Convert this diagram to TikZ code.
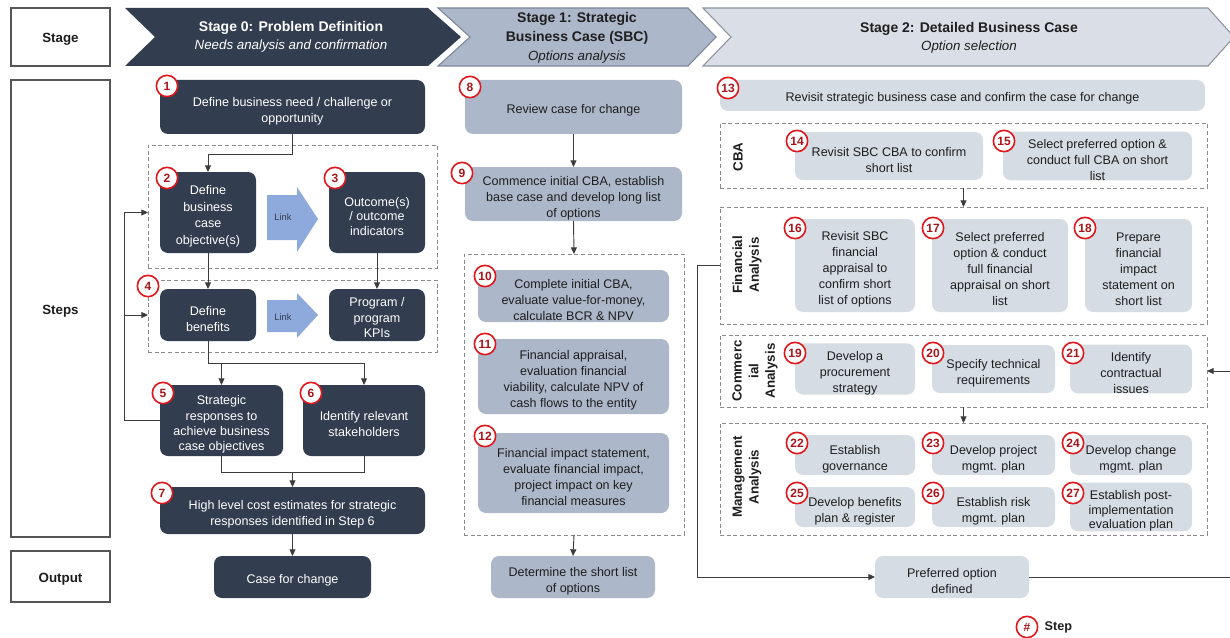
\documentclass[tikz,border=0pt]{standalone}
\usepackage{fontspec}
\setmainfont{Liberation Sans}
\usetikzlibrary{arrows.meta,fit}
\definecolor{navy}{HTML}{323D4F}
\definecolor{midfill}{HTML}{ACB7C9}
\definecolor{lightfill}{HTML}{D6DCE4}
\definecolor{linkblue}{HTML}{8EA9DB}
\definecolor{stepred}{HTML}{E0161B}
\definecolor{numred}{HTML}{A8141A}
\definecolor{dashgray}{HTML}{8A8A8A}
\definecolor{lineg}{HTML}{3C3C3C}
\definecolor{txt}{HTML}{1E1E1E}
\definecolor{lblgray}{HTML}{555555}
\definecolor{stoneedge}{HTML}{7C8698}
\definecolor{stwofill}{HTML}{DADFE7}
\definecolor{stwoedge}{HTML}{8E949E}
\newcommand\bxf{\fontsize{9.4}{12}\selectfont}
\newcommand\tq{\rule{0pt}{12.5pt}}
\begin{document}
\begin{tikzpicture}[x=0.75pt,y=-0.75pt,
  bb/.style n args={4}{minimum width={(#3-#1)*0.75pt}, minimum height={(#4-#2)*0.75pt}, at={({(#1+#3)/2},{(#2+#4)/2})}},
  bx/.style={rounded corners=6pt, inner sep=0pt, outer sep=0pt, align=center, font=\bxf},
  darkbox/.style={bx, fill=navy, text=white},
  midbox/.style={bx, fill=midfill, text=txt},
  lightbox/.style={bx, fill=lightfill, text=txt},
  grp/.style={draw=dashgray, dash pattern=on 3pt off 2pt, line width=0.6pt, inner sep=0pt, outer sep=0pt},
  stepc/.style={circle, draw=stepred, line width=1.2pt, fill=white, minimum size=16pt, inner sep=0pt, font=\bfseries\fontsize{9}{9}\selectfont, text=numred},
  conn/.style={draw=lineg, line width=0.7pt},
  arr/.style={conn, -{Triangle[length=5pt,width=4.5pt]}},
  lblbox/.style={draw=lblgray, line width=1.5pt, fill=white, inner sep=0pt, outer sep=0pt, font=\bfseries\fontsize{10}{12}\selectfont, text=txt},
  grplbl/.style={rotate=90, align=center, font=\bfseries\fontsize{10}{12.5}\selectfont, text=txt},
  linktxt/.style={font=\fontsize{7}{8}\selectfont, text=navy},
]
\useasboundingbox (0,0) rectangle (1230,638);

% left labels
\node[lblbox, bb={11}{8}{110}{66}] (lstage) {\rule{0pt}{11pt}Stage};
\node[lblbox, bb={11}{80}{110}{537}] (lsteps) {\rule{0pt}{11pt}Steps};
\node[lblbox, bb={11}{551}{110}{602}] (loutput) {\rule{0pt}{11pt}Output};

% chevrons
\fill[navy] (125,8) -- (428,8) -- (461,37) -- (428,66) -- (125,66) -- (155,37) -- cycle;
\filldraw[fill=midfill, draw=stoneedge, line width=0.8pt] (438,8) -- (688,8) -- (716,37) -- (688,66) -- (438,66) -- (470,37) -- cycle;
\filldraw[fill=stwofill, draw=stwoedge, line width=0.8pt] (703,8) -- (1208,8) -- (1234,37) -- (1208,66) -- (703,66) -- (731,37) -- cycle;

\node[text=white, font=\bfseries\fontsize{10.5}{12}\selectfont] (s0t) at (291,28) {Stage 0: Problem Definition};
\node[text=white, font=\itshape\fontsize{10}{12}\selectfont] (s0s) at (291,46) {Needs analysis and confirmation};
\node[align=center, text=txt, font=\bfseries\fontsize{10.5}{14.25}\selectfont] (s1t) at (577,28.5) {Stage 1: Strategic\\Business Case (SBC)};
\node[text=txt, font=\itshape\fontsize{10}{12}\selectfont] (s1s) at (577,57) {Options analysis};
\node[text=txt, font=\bfseries\fontsize{10.5}{12}\selectfont] (s2t) at (969,29) {Stage 2: Detailed Business Case};
\node[text=txt, font=\itshape\fontsize{10}{12}\selectfont] (s2s) at (969,47) {Option selection};

% ---------- Stage 0 ----------
\node[grp, fit={(148,145)(437,268)}] (g1) {};
\node[grp, fit={(148,280)(437,352)}] (g2) {};
\node[darkbox, bb={160}{80}{425}{134}] (b1) {\tq Define business need / challenge or\\opportunity};
\node[darkbox, bb={160}{172}{256}{253}, font=\fontsize{9.4}{12.5}\selectfont] (b2) {\tq Define\\business\\case\\objective(s)};
\node[darkbox, bb={329}{172}{425}{253}, font=\fontsize{9.4}{11}\selectfont] (b3) {\tq Outcome(s)\\/ outcome\\indicators};
\node[darkbox, bb={160}{289}{256}{341}] (b4) {\tq Define\\benefits};
\node[darkbox, bb={329}{289}{425}{341}, font=\fontsize{9.4}{11.5}\selectfont] (kpi) {\rule{0pt}{11pt}Program /\\program\\KPIs};
\node[darkbox, bb={160}{385}{283}{456}, font=\fontsize{9.4}{11.3}\selectfont] (b5) {\tq Strategic\\responses to\\achieve business\\case objectives};
\node[darkbox, bb={303}{385}{425}{456}] (b6) {\tq Identify relevant\\stakeholders};
\node[darkbox, bb={160}{487}{425}{534}] (b7) {\tq High level cost estimates for strategic\\responses identified in Step 6};
\node[darkbox, bb={214}{556}{371}{598}] (case) {\rule{0pt}{11pt}Case for change};

\fill[linkblue] (267,195) -- (297,195) -- (297,187) -- (318,219) -- (297,252) -- (297,240) -- (267,240) -- cycle;
\node[linktxt] (lk1) at (283,217) {Link};
\fill[linkblue] (267,300) -- (297,300) -- (297,293) -- (318,315) -- (297,338) -- (297,332) -- (267,332) -- cycle;
\node[linktxt] (lk2) at (283,317) {Link};

\draw[arr] (b1.south) -- ++(0,20) -| (b2.north);
\draw[arr] (b2.south) -- (b4.north);
\draw[arr] (b3.south) -- (kpi.north);
\draw[arr] (b4.south) -- ++(0,22) coordinate (j1) -| (b6.north);
\draw[arr] (b5.north |- j1) -- (b5.north);
\draw[conn] (b5.south) -- ++(0,16) coordinate (j2) -| (b6.south);
\draw[arr] (b7.north |- j2) -- (b7.north);
\draw[arr] (b7.south) -- (case.north);
\draw[conn] (b5.west) -- ++(-36,0) coordinate (fb);
\draw[arr] (fb) |- (g1.west |- b2.west);
\draw[arr] (fb) |- (g2.west |- b4.west);

% ---------- Stage 1 ----------
\node[grp, fit={(464,254)(684,535)}] (g3) {};
\node[midbox, bb={465}{80}{682}{134}] (b8) {\rule{0pt}{11pt}Review case for change};
\node[midbox, bb={465}{167}{682}{221}] (b9) {\tq Commence initial CBA, establish\\base case and develop long list\\of options};
\node[midbox, bb={478}{270}{669}{322}] (b10) {\tq Complete initial CBA,\\evaluate value-for-money,\\calculate BCR \& NPV};
\node[midbox, bb={478}{339}{669}{414}] (b11) {\tq Financial appraisal,\\evaluation financial\\viability, calculate NPV  of\\cash flows to the entity};
\node[midbox, bb={478}{433}{669}{513}] (b12) {\tq Financial impact statement,\\evaluate financial impact,\\project impact on key\\financial measures};
\node[midbox, bb={491}{556}{655}{598}] (sl) {\tq Determine the short list\\of options};
\draw[arr] (b8.south) -- (b9.north);
\draw[arr] (b9.south) -- (g3.north);
\draw[arr] (g3.south) -- (sl.north);

% ---------- Stage 2 ----------
\node[lightbox, bb={720}{80}{1205}{111}] (b13) {\rule{0pt}{11pt}Revisit strategic business case and confirm the case for change};
\node[grp, fit={(720,123)(1207,188)}] (g4) {};
\node[grp, fit={(720,207)(1207,324)}] (g5) {};
\node[grp, fit={(720,335)(1207,407)}] (g6) {};
\node[grp, fit={(720,423)(1207,535)}] (g7) {};
\node[grplbl] (lcba) at (738,157) {CBA};
\node[grplbl] (lfa) at (747,265) {Financial\\Analysis};
\node[grplbl] (lca) at (755,371) {Commerc\\ial\\Analysis};
\node[grplbl] (lma) at (747,477) {Management\\Analysis};

\node[lightbox, bb={795}{132}{983}{180}] (b14) {\tq Revisit SBC CBA to confirm\\short list};
\node[lightbox, bb={1003}{132}{1192}{180}] (b15) {\tq Select preferred option \&\\conduct full CBA on short\\list};
\node[lightbox, bb={795}{219}{915}{312}] (b16) {\tq Revisit SBC\\financial\\appraisal to\\confirm short\\list of options};
\node[lightbox, bb={932}{219}{1068}{312}] (b17) {\tq Select preferred\\option \& conduct\\full financial\\appraisal on short\\list};
\node[lightbox, bb={1085}{219}{1192}{312}] (b18) {\tq Prepare\\financial\\impact\\statement on\\short list};
\node[lightbox, bb={795}{345}{915}{393}] (b19) {\tq Develop a\\procurement\\strategy};
\node[lightbox, bb={932}{345}{1055}{393}] (b20) {\tq Specify technical\\requirements};
\node[lightbox, bb={1070}{345}{1192}{393}] (b21) {\tq Identify\\contractual\\issues};
\node[lightbox, bb={795}{435}{915}{475}] (b22) {\tq Establish\\governance};
\node[lightbox, bb={932}{435}{1055}{475}] (b23) {\tq Develop project\\mgmt. plan};
\node[lightbox, bb={1070}{435}{1192}{475}] (b24) {\tq Develop change\\mgmt. plan};
\node[lightbox, bb={795}{487}{915}{527}] (b25) {\tq Develop benefits\\plan \& register};
\node[lightbox, bb={932}{487}{1055}{527}] (b26) {\tq Establish risk\\mgmt. plan};
\node[lightbox, bb={1070}{487}{1192}{527}, font=\fontsize{9.4}{11}\selectfont] (b27) {\tq Establish post-\\implementation\\evaluation plan};
\node[lightbox, bb={875}{556}{1029}{598}] (pref) {\tq Preferred option\\defined};

\draw[arr] (g4.south) -- (g5.north);
\draw[arr] (g6.south) -- (g7.north);
\draw[arr] (g5.west) -- ++(-23,0) |- (pref.west);
\coordinate (rin) at (1230,371);
\draw[arr] (rin) -- (g6.east);
\coordinate (rout) at (1230,577);
\draw[conn] (pref.east) -- (rout);

% ---------- step circles ----------
\node[stepc] (c1) at (167,86) {1};
\node[stepc] (c2) at (167,178) {2};
\node[stepc] (c3) at (335,178) {3};
\node[stepc] (c4) at (148,286) {4};
\node[stepc] (c5) at (163,393) {5};
\node[stepc] (c6) at (311,393) {6};
\node[stepc] (c7) at (162,493) {7};
\node[stepc] (c8) at (470,87) {8};
\node[stepc] (c9) at (462,173) {9};
\node[stepc] (c10) at (485,276) {10};
\node[stepc] (c11) at (485,344) {11};
\node[stepc] (c12) at (485,436) {12};
\node[stepc] (c13) at (728,88) {13};
\node[stepc] (c14) at (797,141) {14};
\node[stepc] (c15) at (1004,141) {15};
\node[stepc] (c16) at (795,228) {16};
\node[stepc] (c17) at (933,228) {17};
\node[stepc] (c18) at (1085,228) {18};
\node[stepc] (c19) at (795,353) {19};
\node[stepc] (c20) at (933,353) {20};
\node[stepc] (c21) at (1073,353) {21};
\node[stepc] (c22) at (797,443) {22};
\node[stepc] (c23) at (933,443) {23};
\node[stepc] (c24) at (1073,443) {24};
\node[stepc] (c25) at (797,493) {25};
\node[stepc] (c26) at (933,493) {26};
\node[stepc] (c27) at (1073,493) {27};

% legend
\node[stepc] (leg) at (1027,627) {\#};
\node[anchor=west, font=\bfseries\fontsize{9.5}{11}\selectfont, text=txt] (legt) at (1040,627) {Step};
\end{tikzpicture}
\end{document}
